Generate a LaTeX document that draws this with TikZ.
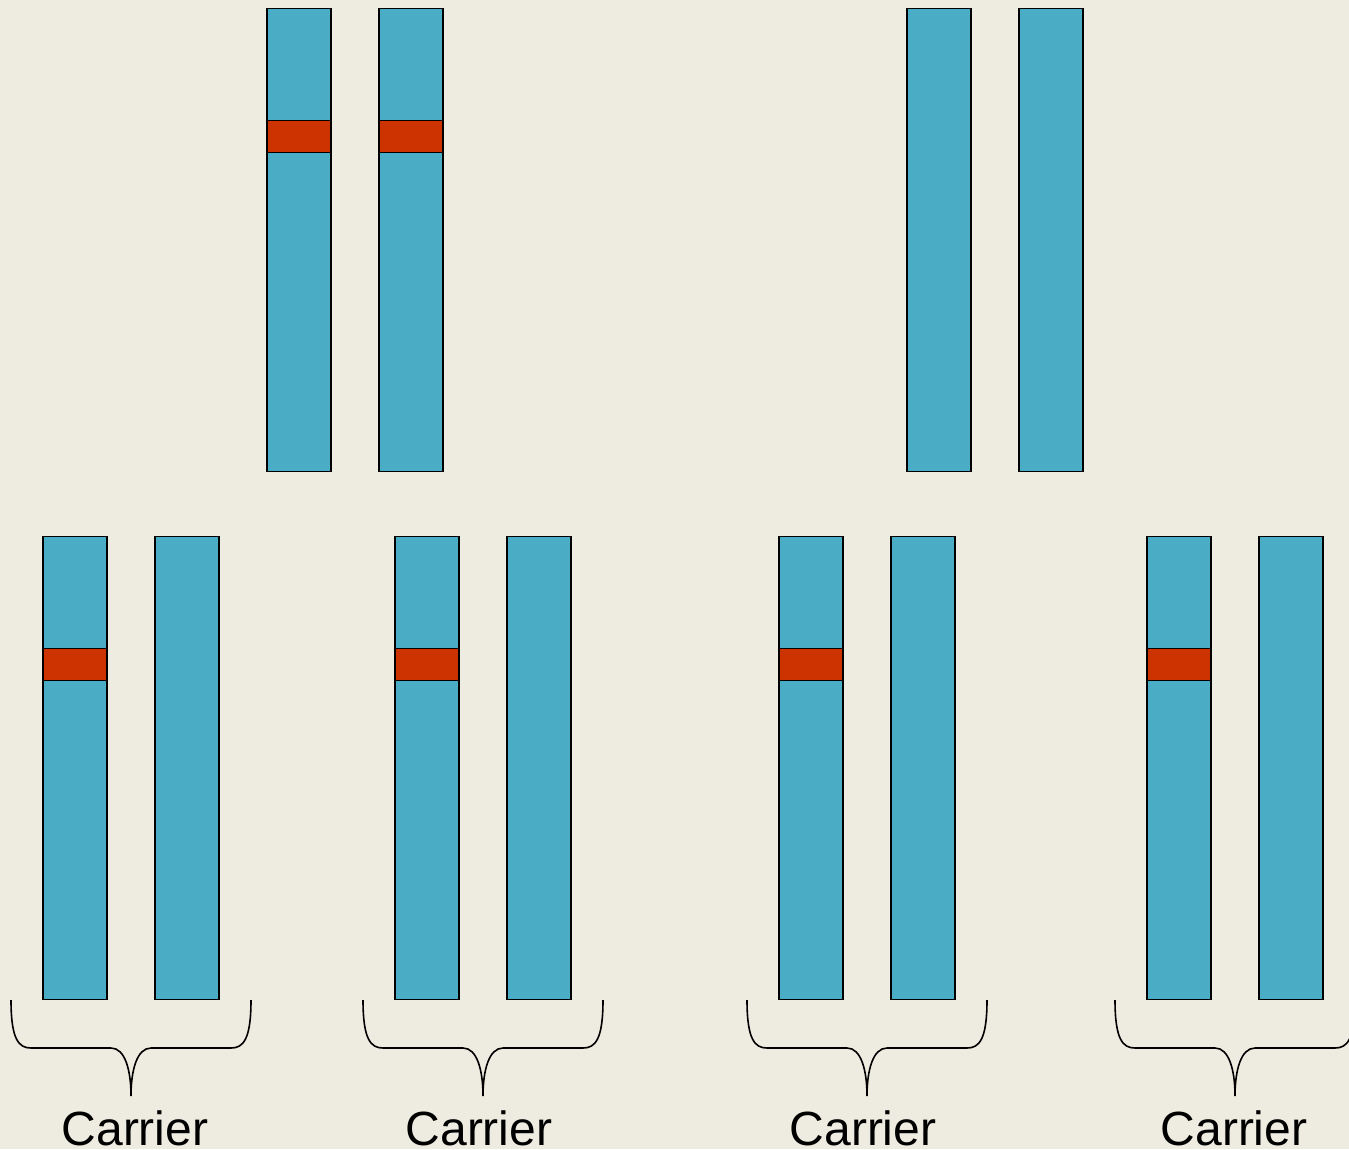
\documentclass[tikz,border=0pt]{standalone}
\usepackage{fontspec}
\setmainfont{Liberation Sans}
\definecolor{bgc}{HTML}{EEEBE0}
\definecolor{chromc}{HTML}{4BACC6}
\definecolor{bandc}{HTML}{CC3300}
\tikzset{
  chrom/.style={draw=black, line width=1.6pt, fill=chromc, rectangle, inner sep=0pt, anchor=north west, minimum width=64pt, minimum height=463pt},
  band/.style={draw=black, line width=1.6pt, fill=bandc, rectangle, inner sep=0pt, anchor=north west, minimum width=64pt, minimum height=32pt},
  lbl/.style={font=\fontsize{48}{56}\selectfont, anchor=base, inner sep=0pt},
  carrierbrace/.pic={
    \draw[line width=1.6pt] (-120,0) .. controls (-120,40) and (-112,48) .. (-100,48) -- (-20,48)
      .. controls (-6,48) and (0,70) .. (0,96) .. controls (0,70) and (6,48) .. (20,48)
      -- (100,48) .. controls (112,48) and (120,40) .. (120,0);
  }
}
\begin{document}
\begin{tikzpicture}[x=1pt,y=-1pt]
\path[use as bounding box, fill=bgc] (0,0) rectangle (1349,1149);
\clip (0,0) rectangle (1349,1149);
% top row
\node[chrom] (t1) at (266,7.5) {};
\node[band] (t1b) at (266,119.5) {};
\node[chrom] (t2) at (378,7.5) {};
\node[band] (t2b) at (378,119.5) {};
\node[chrom] (t3) at (906,7.5) {};
\node[chrom] (t4) at (1018,7.5) {};
% bottom row
\node[chrom] (b1) at (42,535.5) {};
\node[band] (b1b) at (42,647.5) {};
\node[chrom] (b2) at (154,535.5) {};
\node[chrom] (b3) at (394,535.5) {};
\node[band] (b3b) at (394,647.5) {};
\node[chrom] (b4) at (506,535.5) {};
\node[chrom] (b5) at (778,535.5) {};
\node[band] (b5b) at (778,647.5) {};
\node[chrom] (b6) at (890,535.5) {};
\node[chrom] (b7) at (1146,535.5) {};
\node[band] (b7b) at (1146,647.5) {};
\node[chrom] (b8) at (1258,535.5) {};
% braces
\pic at (131,1000) {carrierbrace};
\pic at (483,1000) {carrierbrace};
\pic at (867,1000) {carrierbrace};
\pic at (1235,1000) {carrierbrace};
% labels
\node[lbl] (l1) at (135,1145) {Carrier};
\node[lbl] (l2) at (479,1145) {Carrier};
\node[lbl] (l3) at (863,1145) {Carrier};
\node[lbl] (l4) at (1234,1145) {Carrier};
\end{tikzpicture}
\end{document}
